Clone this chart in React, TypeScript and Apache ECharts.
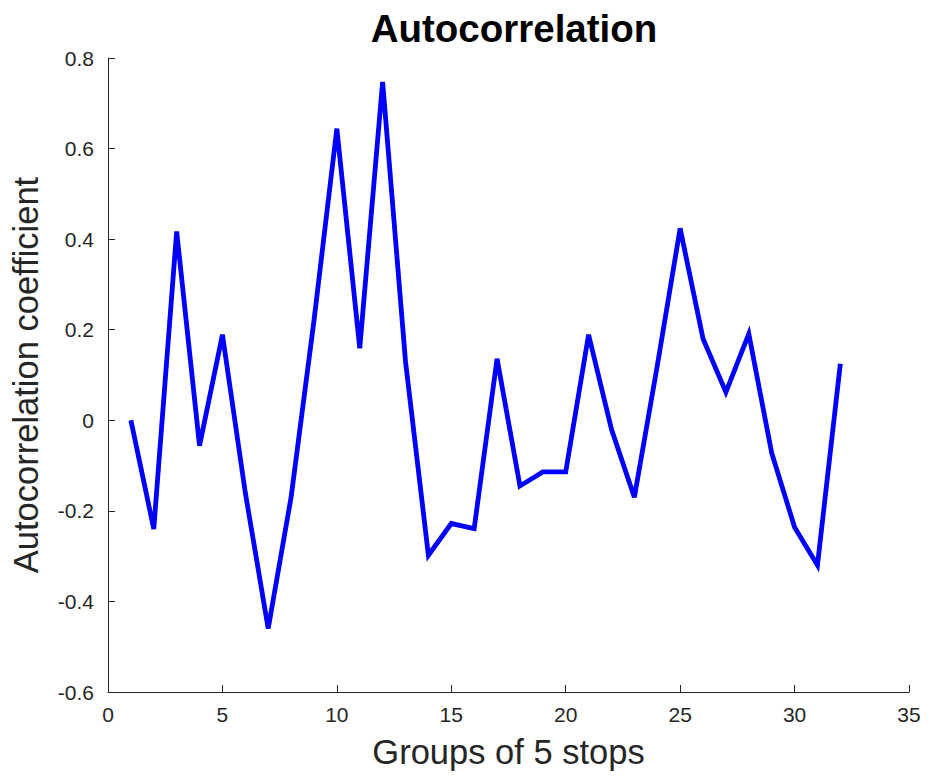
import React, { useEffect, useRef } from "react";
import * as echarts from "echarts";

// Lag groups (1..32) and their autocorrelation coefficients
const groups: number[] = [
  1, 2, 3, 4, 5, 6, 7, 8, 9, 10, 11, 12, 13, 14, 15, 16,
  17, 18, 19, 20, 21, 22, 23, 24, 25, 26, 27, 28, 29, 30, 31, 32,
];
const coefficients: number[] = [
  0, -0.24, 0.417, -0.056, 0.189, -0.16, -0.46, -0.17, 0.22, 0.644, 0.159, 0.747,
  0.13, -0.298, -0.228, -0.239, 0.136, -0.145, -0.114, -0.114, 0.189, -0.02,
  -0.17, 0.12, 0.424, 0.18, 0.062, 0.191, -0.072, -0.236, -0.32, 0.125,
];

// Axis extents and tick steps
const xRange = { min: 0, max: 35, step: 5 };
const yRange = { min: -0.6, max: 0.8, step: 0.2 };

const titleText = "Autocorrelation";
const xName = "Groups of 5 stops";
const yName = "Autocorrelation coefficient";

const FONT = "'Liberation Sans', Arial, Helvetica, sans-serif";
const AXIS_COLOR = "#262626";

export default function App() {
  const ref = useRef<HTMLDivElement>(null);

  useEffect(() => {
    if (!ref.current) return;
    const chart = echarts.init(ref.current, undefined, { renderer: "svg" });

    const axisCommon = {
      axisLine: { show: true, onZero: false, lineStyle: { color: AXIS_COLOR, width: 1 } },
      axisTick: { show: true, inside: true, length: 7, lineStyle: { color: AXIS_COLOR, width: 1 } },
      splitLine: { show: false },
      nameTextStyle: { fontFamily: FONT, fontSize: 34.5, color: AXIS_COLOR },
    };

    chart.setOption({
      animation: false,
      backgroundColor: "#ffffff",
      title: {
        text: titleText,
        left: 509,
        top: 4,
        textAlign: "center",
        textStyle: { fontFamily: FONT, fontSize: 38.5, fontWeight: "bold", color: "#000000" },
      },
      grid: {
        left: 108,
        right: 20,
        top: 58,
        bottom: 88,
        containLabel: false,
        outerBoundsMode: "none",
      },
      xAxis: {
        type: "value",
        min: xRange.min,
        max: xRange.max,
        interval: xRange.step,
        name: xName,
        nameLocation: "middle",
        nameGap: 42,
        axisLabel: {
          fontFamily: FONT,
          fontSize: 21,
          color: AXIS_COLOR,
          margin: 12,
        },
        ...axisCommon,
      },
      yAxis: {
        type: "value",
        min: yRange.min,
        max: yRange.max,
        interval: yRange.step,
        name: yName,
        nameLocation: "middle",
        nameRotate: 90,
        nameGap: 65,
        axisLabel: {
          fontFamily: FONT,
          fontSize: 21,
          color: AXIS_COLOR,
          margin: 14,
          formatter: (v: number) => {
            const r = Math.round(v * 10) / 10;
            return r === 0 ? "0" : r.toFixed(1);
          },
        },
        ...axisCommon,
      },
      series: [
        {
          type: "line",
          data: groups.map((g, i) => [g, coefficients[i]]),
          showSymbol: false,
          symbol: "none",
          lineStyle: { color: "#0000ff", width: 4.8, join: "miter", cap: "butt" },
          z: 3,
        },
      ],
    });

    return () => chart.dispose();
  }, []);

  return (
    <div
      ref={ref}
      style={{ position: "fixed", left: 0, top: 0, width: 929, height: 780, background: "#fff" }}
    />
  );
}
